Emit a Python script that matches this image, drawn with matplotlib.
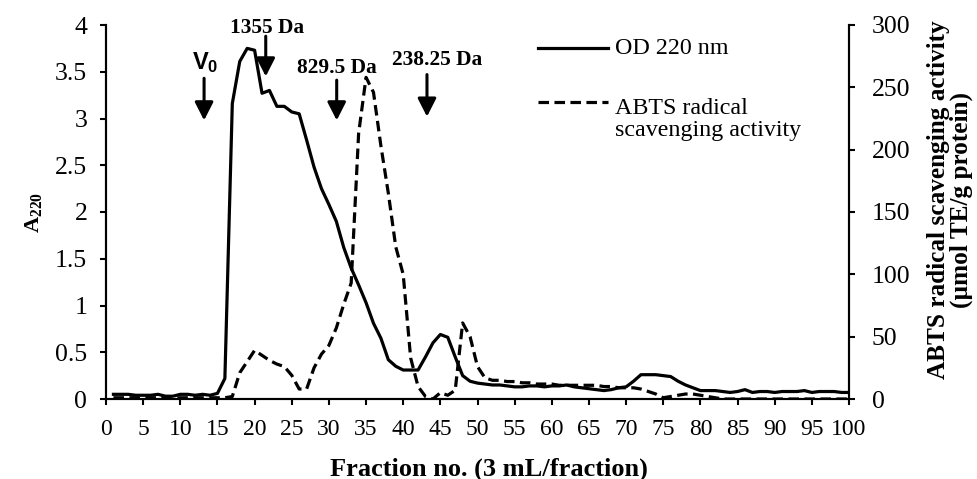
import matplotlib
matplotlib.use('Agg')
import matplotlib.pyplot as plt
from matplotlib.lines import Line2D

plt.rcParams['font.family'] = ['Liberation Serif', 'DejaVu Serif']
plt.rcParams['mathtext.fontset'] = 'custom'
plt.rcParams['mathtext.rm'] = 'Liberation Serif:bold'
plt.rcParams['mathtext.bf'] = 'Liberation Serif:bold'
plt.rcParams['mathtext.sf'] = 'Liberation Sans:bold'

# Fraction numbers
fractions = list(range(1, 101))

# OD 220 nm (left axis)
od220 = [
    0.05, 0.05, 0.05, 0.04, 0.04, 0.04, 0.05, 0.03, 0.03, 0.05,
    0.05, 0.04, 0.05, 0.04, 0.06, 0.22, 3.16, 3.61, 3.75, 3.73,
    3.27, 3.30, 3.13, 3.13, 3.07, 3.05, 2.77, 2.48, 2.25, 2.08,
    1.90, 1.62, 1.40, 1.22, 1.03, 0.81, 0.65, 0.42, 0.35, 0.31,
    0.31, 0.31, 0.45, 0.60, 0.69, 0.66, 0.45, 0.25, 0.19, 0.17,
    0.16, 0.15, 0.15, 0.14, 0.13, 0.13, 0.14, 0.14, 0.13, 0.14,
    0.14, 0.15, 0.13, 0.12, 0.11, 0.10, 0.09, 0.10, 0.12, 0.13,
    0.19, 0.26, 0.26, 0.26, 0.25, 0.24, 0.19, 0.15, 0.12, 0.09,
    0.09, 0.09, 0.08, 0.07, 0.08, 0.10, 0.07, 0.08, 0.08, 0.07,
    0.08, 0.08, 0.08, 0.09, 0.07, 0.08, 0.08, 0.08, 0.07, 0.07]

# ABTS radical scavenging activity (right axis)
abts = [
    1, 1, 1, 1, 1, 1, 1, 1, 1, 1,
    1, 1, 1, 1, 1, 1, 2, 21, 30, 39,
    35, 31, 28, 26, 19, 8, 8, 25, 36, 43,
    57, 76, 93, 213, 258, 246, 203, 165, 122, 100,
    33, 10, 2, 0, 5, 3, 7, 61, 50, 26,
    17, 15, 15, 14, 14, 13, 13, 12, 12, 12,
    11, 11, 11, 11, 11, 11, 10, 10, 9, 9,
    9, 8, 6, 4, 1, 2, 3, 4, 4, 3,
    2, 1, 0, 0, 0, 0, 0, 0, 0, 0,
    0, 0, 0, 0, 0, 0, 0, 0, 0, 0]

# molecular weight markers (fraction position)
marker_labels = ['$\\mathsf{V_0}$', '1355 Da', '829.5 Da', '238.25 Da']
marker_fracs = [13.2, 21.5, 31.05, 43.2]

W, H = 977, 479
fig = plt.figure(figsize=(W / 100, H / 100), dpi=100)
ax = fig.add_axes([106 / W, 1 - 399 / H, 743 / W, 374 / H])
ax2 = ax.twinx()

lw = 2.3
ax.plot(fractions, od220, color='black', lw=lw, solid_joinstyle='round')
ax2.plot(fractions, abts, color='black', lw=lw, dashes=(3.3, 1.7))

ax.set_xlim(0, 100)
ax.set_ylim(0, 4)
ax2.set_ylim(0, 300)
ax.set_xticks(range(0, 101, 5))
ax.set_yticks([0, 0.5, 1, 1.5, 2, 2.5, 3, 3.5, 4])
ax.set_yticklabels(['0', '0.5', '1', '1.5', '2', '2.5', '3', '3.5', '4'])
ax2.set_yticks(range(0, 301, 50))

for a in (ax, ax2):
    a.spines['top'].set_visible(False)
    for s in a.spines.values():
        s.set_linewidth(1.5)
ax.tick_params(axis='x', direction='out', length=4.5, width=1.5, labelsize=17, pad=10)
ax.tick_params(axis='y', direction='out', length=4.5, width=1.5, labelsize=18.5, pad=9)
ax2.tick_params(axis='y', direction='out', length=4.5, width=1.5, labelsize=18.5, pad=12)

# axis titles
fig.text(489 / W, 1 - 469 / H, 'Fraction no. (3 mL/fraction)', ha='center', va='center',
         fontsize=19, fontweight='bold')
fig.text(33 / W, 1 - 212 / H, '$\\mathbf{A_{220}}$', ha='center', va='center',
         rotation=90, fontsize=16)
fig.text(950 / W, 1 - 200 / H, 'ABTS radical scavenging activity\n(\u00b5mol TE/g protein)',
         ha='center', va='center', rotation=90, fontsize=18.2, fontweight='bold',
         linespacing=1.0)

# markers with arrows
text_y = [3.60, 3.97, 3.54, 3.63]
text_dx = [0.1, 0.2, 0.0, 1.3]
arrow_top = [3.43, 3.88, 3.41, 3.47]
arrow_bot = [2.98, 3.45, 2.98, 3.02]
for lab, fx, ty, dx, at, ab in zip(marker_labels, marker_fracs, text_y, text_dx, arrow_top, arrow_bot):
    fs = 17 if lab.startswith('$') else 15.4
    ax.text(fx + dx, ty, lab, ha='center', va='center', fontsize=fs, fontweight='bold',
            zorder=5)
    ax.annotate('', xy=(fx, ab), xytext=(fx, at),
                arrowprops=dict(arrowstyle='-|>,head_length=0.55,head_width=0.28',
                                lw=2.2, color='black', mutation_scale=20,
                                shrinkA=0, shrinkB=0))

# legend
leg_x0, leg_x1 = (538 - 106) / 743, (608 - 106) / 743
tx = (615 - 106) / 743
y1 = (399 - 48) / 374
y2 = (399 - 102) / 374
ax2.add_line(Line2D([leg_x0, leg_x1], [y1, y1], transform=ax2.transAxes, color='black',
                    lw=lw, clip_on=False))
ax2.add_line(Line2D([leg_x0, leg_x1], [y2, y2], transform=ax2.transAxes, color='black',
                    lw=lw, dashes=(3.3, 1.7), clip_on=False))
ax2.text(tx, y1, 'OD 220 nm', transform=ax2.transAxes, ha='left', va='center', fontsize=17.3)
ax2.text(tx, y2 + 0.012, 'ABTS radical\nscavenging activity', transform=ax2.transAxes,
         ha='left', va='top', fontsize=17.3, linespacing=1.1)

fig.savefig('out.png', dpi=100)
